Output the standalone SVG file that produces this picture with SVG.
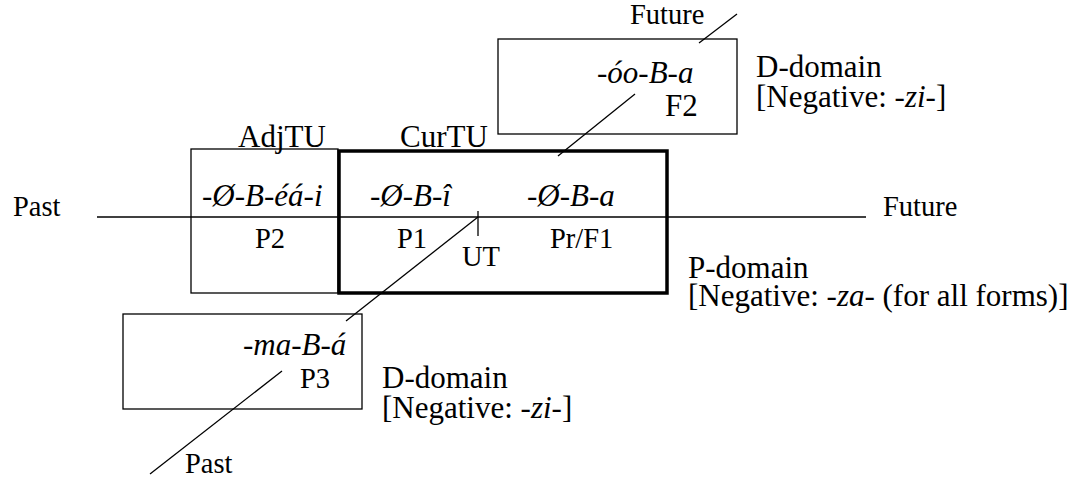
<svg xmlns="http://www.w3.org/2000/svg" width="1081" height="479" viewBox="0 0 1081 479">
  <style>
    text { font-family: "Liberation Serif", "Times New Roman", serif; font-size: 31px; fill: #000; }
    .it { font-style: italic; }
    .sm { font-size: 28.5px; }
    .box { fill: none; stroke: #000; stroke-width: 1.3; }
    .thick { fill: none; stroke: #000; stroke-width: 3.5; }
    .ln { stroke: #000; stroke-width: 1.3; fill: none; }
  </style>
  <rect width="1081" height="479" fill="#fff"/>

  <!-- time axis and slanted distant-time axis -->
  <g id="connectors">
    <line class="ln" x1="97" y1="217" x2="866" y2="217" stroke-width="1.8"/>
    <line class="ln" x1="478" y1="211" x2="478" y2="236"/>
    <line class="ln" x1="478" y1="217" x2="346" y2="321"/>
    <line class="ln" x1="282" y1="371" x2="150" y2="474"/>
    <line class="ln" x1="737" y1="14" x2="699" y2="43"/>
    <line class="ln" x1="635" y1="94" x2="558" y2="156"/>
  </g>

  <g id="adjtu">
    <rect class="box" x="191" y="149" width="147" height="144"/>
    <text x="238" y="147">AdjTU</text>
    <text class="it" x="202" y="206">-Ø-B-éá-i</text>
    <text class="sm" x="255" y="248">P2</text>
  </g>

  <g id="curtu">
    <rect class="thick" x="339" y="151" width="328" height="142"/>
    <text x="400" y="147">CurTU</text>
    <text class="it" x="370" y="206">-Ø-B-î</text>
    <text class="sm" x="397" y="248">P1</text>
    <text class="sm" x="462" y="266">UT</text>
    <text class="it" x="527" y="206">-Ø-B-a</text>
    <text class="sm" x="550" y="248">Pr/F1</text>
  </g>

  <g id="f2">
    <rect class="box" x="498" y="39" width="239" height="95"/>
    <text class="it" x="597" y="83">-óo-B-a</text>
    <text x="665" y="116" font-size="30">F2</text>
  </g>

  <g id="p3">
    <rect class="box" x="123" y="314" width="239" height="95"/>
    <text class="it" x="243" y="355">-ma-B-á</text>
    <text class="sm" x="300" y="388">P3</text>
  </g>

  <g id="labels">
    <text class="sm" x="630" y="24">Future</text>
    <text x="756" y="77">D-domain</text>
    <text x="756" y="107">[Negative: <tspan class="it">-zi</tspan>-]</text>
    <text class="sm" x="13" y="216">Past</text>
    <text class="sm" x="883" y="216">Future</text>
    <text x="688" y="278">P-domain</text>
    <text x="688" y="306">[Negative: <tspan class="it">-za</tspan>- (for all forms)]</text>
    <text x="382" y="388">D-domain</text>
    <text x="382" y="418">[Negative: <tspan class="it">-zi</tspan>-]</text>
    <text class="sm" x="185" y="473">Past</text>
  </g>
</svg>
